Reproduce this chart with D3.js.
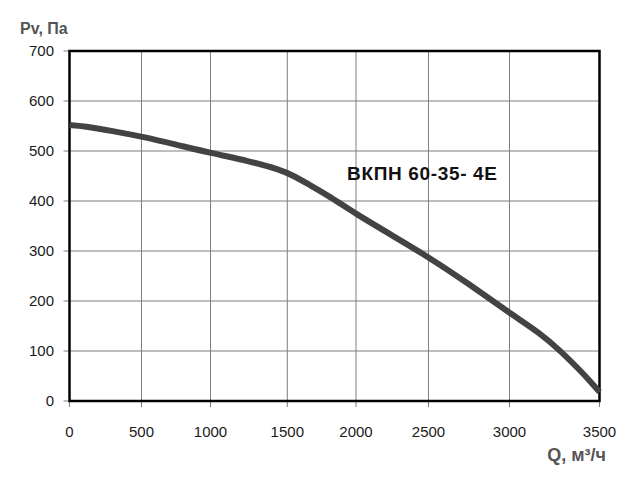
<!DOCTYPE html>
<html><head><meta charset="utf-8">
<script src="https://cdn.jsdelivr.net/npm/d3@7"></script>
<style>body{margin:0;background:#fff}svg{display:block}</style>
</head><body>
<script>
const flowQ = [0, 100, 300, 500, 750, 1000, 1250, 1450, 1550, 1650, 1810, 2000, 2250, 2500, 2750, 3000, 3170, 3290, 3390, 3460, 3500];
const pressure = [552, 550, 540, 529, 513, 496, 480, 463, 450, 434, 409, 374, 331, 288, 234, 176, 136, 98, 62, 35, 18];
const xTicks = [0, 500, 1000, 1500, 2000, 2500, 3000, 3500];
const yTicks = [0, 100, 200, 300, 400, 500, 600, 700];
const seriesLabel = "ВКПН 60-35- 4E";
const yTitle = "Pv, Па";
const xTitle = "Q, м³/ч";

const W = 640, H = 480;
const svg = d3.select("body").append("svg").attr("width", W).attr("height", H);
const font = "'Liberation Sans', Arial, sans-serif";

// piecewise x scale matching the reference's uneven grid
const x = d3.scaleLinear().domain(xTicks).range([69.5, 141.5, 210.5, 287.3, 356, 428.5, 509.5, 599.5]);
const y = d3.scaleLinear().domain([0, 700]).range([401, 51]);

// grid
svg.append("g").selectAll("line.v").data(xTicks).join("line")
  .attr("x1", d => x(d)).attr("x2", d => x(d)).attr("y1", y(700)).attr("y2", y(0) + 6)
  .attr("stroke", "#7f7f7f").attr("stroke-width", 1);
svg.append("g").selectAll("line.h").data(yTicks).join("line")
  .attr("x1", x(0) - 6).attr("x2", x(3500)).attr("y1", d => y(d)).attr("y2", d => y(d))
  .attr("stroke", "#7f7f7f").attr("stroke-width", 1);

// frame
svg.append("rect").attr("x", x(0)).attr("y", y(700)).attr("width", x(3500) - x(0)).attr("height", y(0) - y(700))
  .attr("fill", "none").attr("stroke", "#000").attr("stroke-width", 2.5);

// tick labels
svg.append("g").selectAll("text").data(xTicks).join("text")
  .attr("x", d => x(d)).attr("y", 437).attr("text-anchor", "middle")
  .attr("font-family", font).attr("font-size", 15).attr("fill", "#1a1a1a").text(d => d);
svg.append("g").selectAll("text").data(yTicks).join("text")
  .attr("x", 54).attr("y", d => y(d) + 5).attr("text-anchor", "end")
  .attr("font-family", font).attr("font-size", 15).attr("fill", "#1a1a1a").text(d => d);

// curve
const data = flowQ.map((q, i) => [q, pressure[i]]);
svg.append("path").datum(data)
  .attr("d", d3.line().x(d => x(d[0])).y(d => y(d[1])).curve(d3.curveBasis))
  .attr("fill", "none").attr("stroke", "#434343").attr("stroke-width", 6).attr("stroke-linecap", "butt");

// labels
svg.append("text").attr("x", 347).attr("y", 180).attr("font-family", font).attr("font-weight", "bold")
  .attr("font-size", 19).attr("fill", "#111").attr("textLength", 150).attr("lengthAdjust", "spacing").text(seriesLabel);
svg.append("text").attr("x", 20).attr("y", 34).attr("font-family", font).attr("font-weight", "bold")
  .attr("font-size", 16).attr("fill", "#555").text(yTitle);
svg.append("text").attr("x", 606).attr("y", 461).attr("text-anchor", "end").attr("font-family", font).attr("font-weight", "bold")
  .attr("font-size", 18).attr("fill", "#555").text(xTitle);
</script>
</body></html>
